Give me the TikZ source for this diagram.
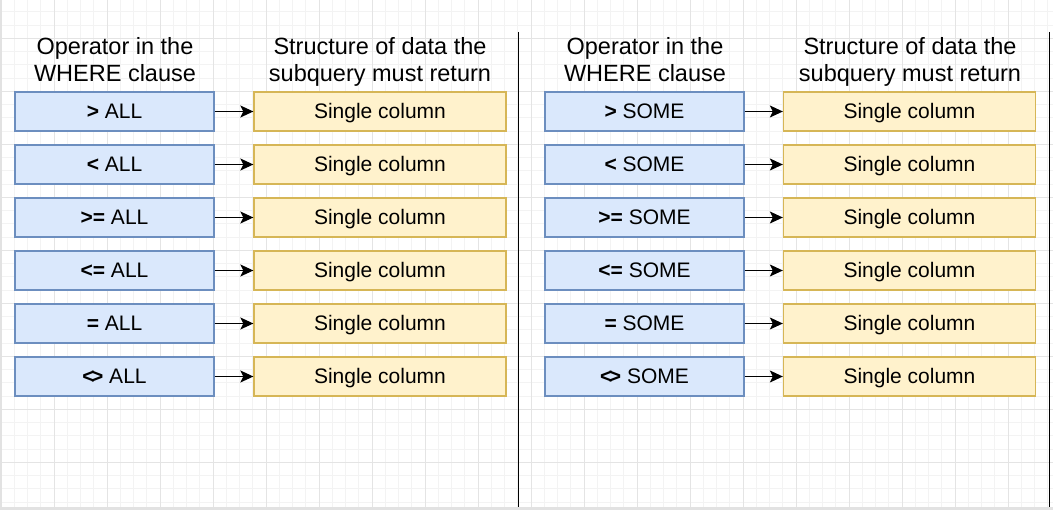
\documentclass[tikz,border=0pt]{standalone}
\usepackage{fontspec}
\setmainfont{Liberation Sans}
\usetikzlibrary{arrows.meta}
\definecolor{bluefill}{HTML}{DAE8FC}
\definecolor{bluedraw}{HTML}{6C8EBF}
\definecolor{yelfill}{HTML}{FFF2CC}
\definecolor{yeldraw}{HTML}{D6B656}
\definecolor{gridminor}{HTML}{F3F3F3}
\definecolor{gridmajor}{HTML}{E4E4E4}
\definecolor{edgegray}{HTML}{E2E2E2}
\tikzset{
  opbox/.style={draw=bluedraw, fill=bluefill, line width=1.3pt, minimum width=199pt,
    minimum height=39pt, inner sep=0pt, font=\fontsize{21}{25}\selectfont,
    text height=13.6pt, text depth=0pt},
  colbox/.style={draw=yeldraw, fill=yelfill, line width=1.3pt, minimum width=252pt,
    minimum height=39pt, inner sep=0pt, font=\fontsize{21}{25}\selectfont,
    text height=13.6pt, text depth=0pt},
  hdr/.style={align=center, font=\fontsize{23.5}{27}\selectfont, anchor=base, inner sep=0pt},
  arr/.style={-{Stealth[length=13pt,width=12pt,inset=3pt]}, line width=1.3pt, black},
  divider/.style={line width=1.6pt, black}
}
\begin{document}
\begin{tikzpicture}[x=1pt,y=-1pt]
\useasboundingbox (0,0) rectangle (1053,510);
\fill[white] (0,0) rectangle (1053,510);
\begin{scope}
\clip (0,0) rectangle (1053,510);
\foreach \i in {0,...,80} \draw[gridminor, line width=0.8pt] ({1+13.25*\i},0) -- ++(0,510);
\foreach \i in {0,...,39} \draw[gridminor, line width=0.8pt] (0,{-1.45+13.25*\i}) -- ++(1053,0);
\foreach \i in {0,...,20} \draw[gridmajor, line width=0.8pt] ({1+53*\i},0) -- ++(0,510);
\foreach \i in {0,...,10} \draw[gridmajor, line width=0.8pt] (0,{-14.7+53*\i}) -- ++(1053,0);
\fill[edgegray] (0,507) rectangle (1053,510);
\fill[edgegray] (0,0) rectangle (1.5,510);
\end{scope}

% headers
\node[hdr] (h1) at (115,82) {Operator in the\\WHERE clause};
\node[hdr] (h2) at (380,82) {Structure of data the\\subquery must return};
\node[hdr] (h3) at (645,82) {Operator in the\\WHERE clause};
\node[hdr] (h4) at (910,82) {Structure of data the\\subquery must return};

% left table
\foreach \op [count=\i from 0] in {>,<,>=,<=,=,{<\kern-3.5pt>}} {
  \node[opbox] (lo\i) at (114.5,{111.5+53*\i}) {\textbf{\op} ALL};
  \node[colbox] (lc\i) at (380,{111.5+53*\i}) {Single column};
  \draw[arr] (lo\i.east) -- (lc\i.west);
}
% right table
\foreach \op [count=\i from 0] in {>,<,>=,<=,=,{<\kern-3.5pt>}} {
  \node[opbox] (ro\i) at (644.5,{111.5+53*\i}) {\textbf{\op} SOME};
  \node[colbox] (rc\i) at (909.5,{111.5+53*\i}) {Single column};
  \draw[arr] (ro\i.east) -- (rc\i.west);
}

% dividers
\coordinate (d1t) at (518.5,32);
\coordinate (d1b) at (518.5,507);
\coordinate (d2t) at (1049.5,32);
\coordinate (d2b) at (1049.5,507);
\draw[divider] (d1t) -- (d1b);
\draw[divider] (d2t) -- (d2b);
\end{tikzpicture}
\end{document}
